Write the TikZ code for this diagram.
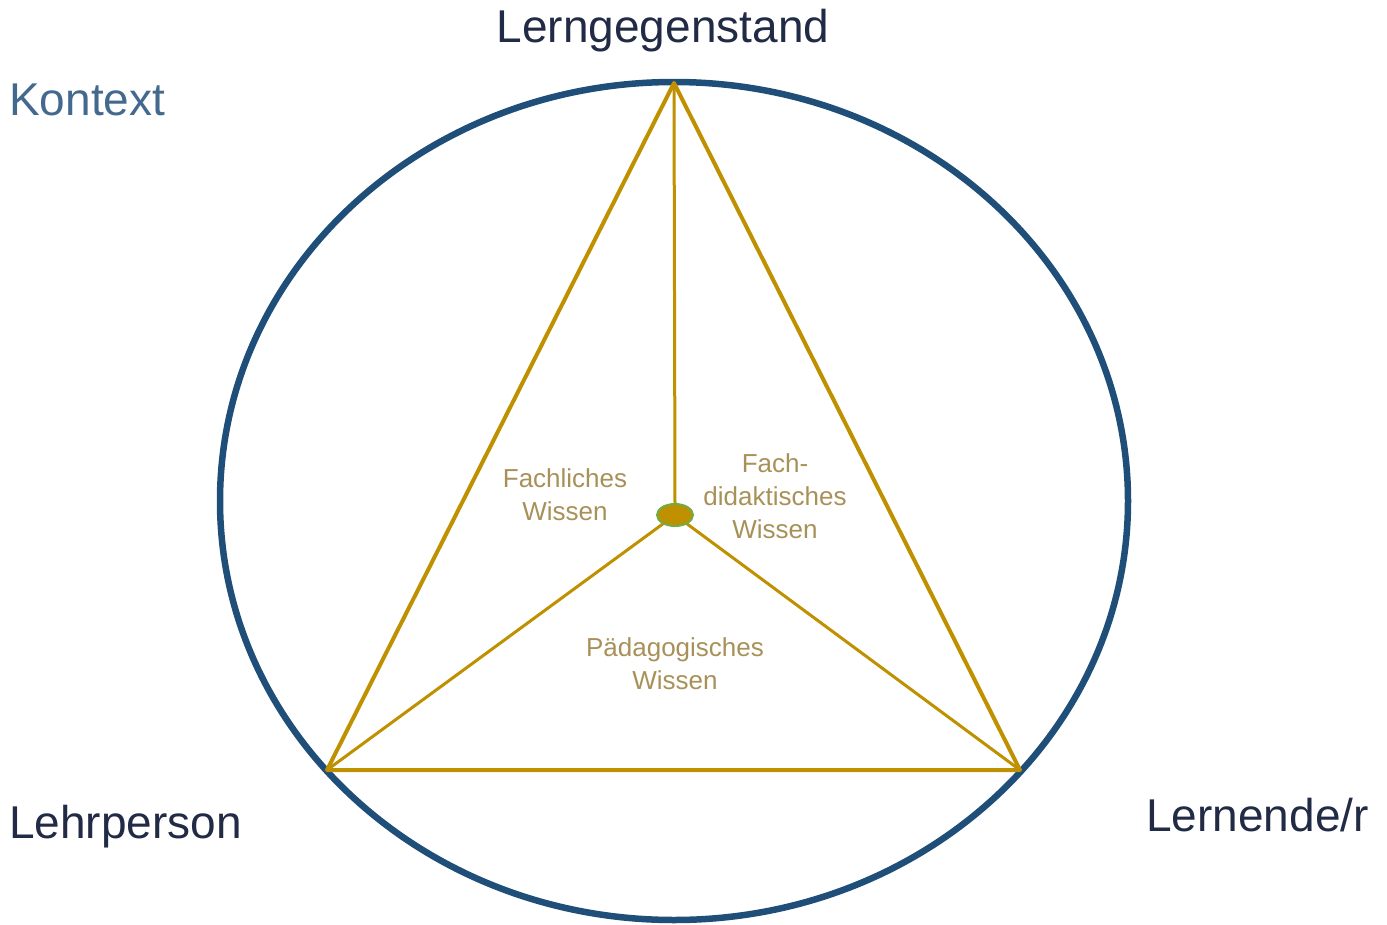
\documentclass[tikz,border=0pt]{standalone}
\usepackage{fontspec}
\usetikzlibrary{shapes.geometric}
\setmainfont{Liberation Sans}
\definecolor{ringblue}{RGB}{31,78,121}
\definecolor{gold}{RGB}{191,144,0}
\definecolor{dotgreen}{RGB}{112,173,71}
\definecolor{labtan}{RGB}{168,145,88}
\definecolor{navy}{RGB}{34,43,69}
\definecolor{ctxblue}{RGB}{68,105,143}
\begin{document}
\begin{tikzpicture}[x=1pt,y=-1pt,
  bigl/.style={font=\fontsize{46}{54}\selectfont,text=navy,inner sep=0pt},
  small/.style={font=\fontsize{26}{33}\selectfont,text=labtan,align=center,inner sep=0pt},
  edge/.style={draw=gold,line width=4pt},
  inner/.style={draw=gold,line width=3pt}]
\useasboundingbox (0,0) rectangle (1387,924);
\draw[ringblue,line width=6.5pt] (674,501) ellipse [x radius=454, y radius=419];
\coordinate (T) at (674,83);
\coordinate (L) at (327,770);
\coordinate (R) at (1020,770);
\draw[inner] (T) -- (675,505);
\draw[inner] (675,515) coordinate (c0) -- (L);
\draw[inner] (c0) -- (R);
\node[ellipse,draw=dotgreen,line width=2pt,fill=gold,minimum width=36pt,minimum height=22pt,inner sep=0pt] (C) at (c0) {};
\draw[edge,line join=round] (T) -- (L) -- (R) -- cycle;
\node[bigl] (lg) at (663,31) {Lerngegenstand};
\node[bigl,text=ctxblue,anchor=west] (kx) at (9,100) {Kontext};
\node[bigl,anchor=west] (lp) at (9,827) {Lehrperson};
\node[bigl,anchor=east] (ln) at (1369,815) {Lernende/r};
\node[small] (fw) at (565,495) {Fachliches\\Wissen};
\node[small] (fd) at (775,496) {Fach-\\didaktisches\\Wissen};
\node[small] (pw) at (675,664) {Pädagogisches\\Wissen};
\end{tikzpicture}
\end{document}
